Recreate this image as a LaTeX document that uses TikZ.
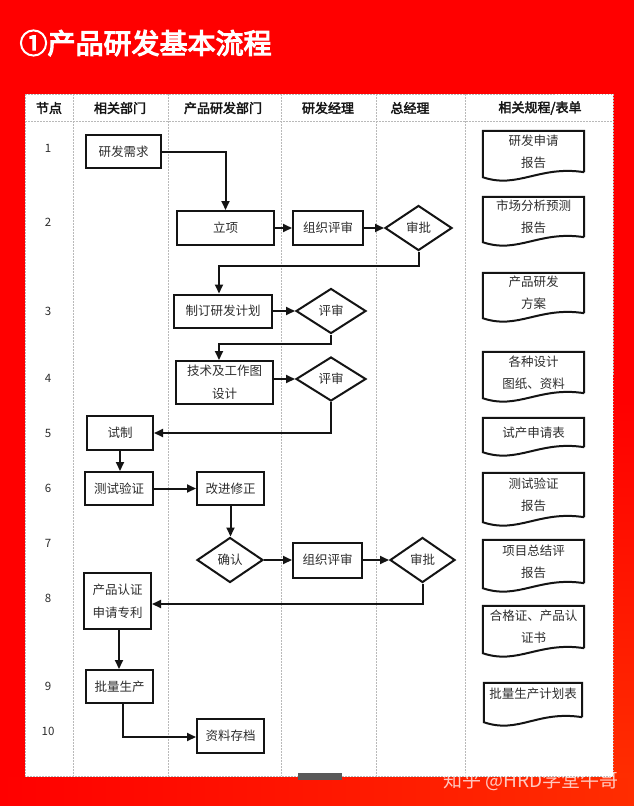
\documentclass[tikz,border=0pt]{standalone}
\usepackage{fontspec}
\setmainfont{Noto Sans CJK SC}[AutoFakeBold=2.5]
\newfontfamily\titlefont{Noto Sans CJK SC}[FakeBold=4]
\usetikzlibrary{arrows.meta,shapes.geometric,calc}
\definecolor{bgred}{RGB}{255,0,0}
\definecolor{bgorange}{RGB}{255,45,0}
\definecolor{ink}{RGB}{20,20,20}
\definecolor{txt}{RGB}{45,45,45}
\definecolor{grid}{RGB}{185,185,185}
\newcommand\docshape[2]{%
  \draw[line width=2pt, draw=ink]
    ($(#1.south east)+(0,#2)$) -- (#1.north east) -- (#1.north west) -- ($(#1.south west)+(0,#2+5)$)
    .. controls ($(#1.south west)+(35,#2+17)$) and ($(#1.south east)+(-45,#2-7)$) .. ($(#1.south east)+(0,#2)$);}
\begin{document}
\begin{tikzpicture}[x=1pt,y=-1pt,
  box/.style={draw=ink, line width=2pt, rectangle, inner sep=0pt, align=center,
    font=\fontsize{12.5}{22.5}\selectfont, text=txt},
  dia/.style={draw=ink, line width=2pt, diamond, inner sep=0pt, align=center,
    font=\fontsize{12.5}{15}\selectfont, text=txt},
  doc/.style={inner sep=0pt, minimum width=101pt, align=center,
    font=\fontsize{12.5}{22}\selectfont, text=txt},
  arr/.style={draw=ink, line width=2pt, -{Triangle[length=9pt,width=8pt]}},
  hdr/.style={font=\fontsize{13}{15}\selectfont\bfseries, text=ink},
  num/.style={font=\fontsize{11.5}{13}\selectfont, text=txt},
  divider/.style={draw=grid, line width=0.7pt, dash pattern=on 1.5pt off 1.5pt}
]
\useasboundingbox (0,0) rectangle (634,806);
% background
\fill[bgred] (0,0) rectangle (634,806);
\shade[left color=bgred, right color=bgorange] (0,777) rectangle (634,806);
\shade[top color=bgred, bottom color=bgorange] (613,400) rectangle (634,777);
% title
\node[anchor=west, text=white, font=\fontsize{28}{30}\selectfont\titlefont] (title) at (16,43) {①产品研发基本流程};
% panel
\fill[white] (25,94) rectangle (613,777);
\draw[divider] (25,94) rectangle (613,776);
\foreach \xx in {73,168,281,376,465} {\draw[divider] (\xx,94) -- (\xx,776);}
\draw[divider] (25,121) -- (613,121);
% header
\node[hdr] (h1) at (49,108) {节点};
\node[hdr] (h2) at (120,108) {相关部门};
\node[hdr] (h3) at (223,108) {产品研发部门};
\node[hdr] (h4) at (328,108) {研发经理};
\node[hdr] (h5) at (410,108) {总经理};
\node[hdr] (h6) at (540,108) {相关规程/表单};
% row numbers
\node[num] (n1) at (48,148) {1};
\node[num] (n2) at (48,222) {2};
\node[num] (n3) at (48,311) {3};
\node[num] (n4) at (48,378) {4};
\node[num] (n5) at (48,433) {5};
\node[num] (n6) at (48,488) {6};
\node[num] (n7) at (48,543) {7};
\node[num] (n8) at (48,598) {8};
\node[num] (n9) at (48,686) {9};
\node[num] (n10) at (48,731) {10};
% process nodes
\node[box, minimum width=75pt, minimum height=33pt] (rq) at (123.5,151.5) {研发需求};
\node[box, minimum width=97pt, minimum height=34pt] (lx) at (225.5,228) {立项};
\node[box, minimum width=70pt, minimum height=34pt] (ps1) at (328,228) {组织评审};
\node[dia, minimum width=67pt, minimum height=45pt] (sp1) at (418.5,228) {审批};
\node[box, minimum width=98pt, minimum height=33pt] (jh) at (223,311) {制订研发计划};
\node[dia, minimum width=70pt, minimum height=45pt] (ps2) at (331,311) {评审};
\node[box, minimum width=97pt, minimum height=43pt] (js) at (224.5,382.5) {技术及工作图\\设计};
\node[dia, minimum width=70pt, minimum height=44pt] (ps3) at (331,379) {评审};
\node[box, minimum width=66pt, minimum height=34pt] (sz) at (120,433) {试制};
\node[box, minimum width=68pt, minimum height=33pt] (cs) at (119,488.5) {测试验证};
\node[box, minimum width=67pt, minimum height=33pt] (gj) at (230.5,488.5) {改进修正};
\node[dia, minimum width=66pt, minimum height=45pt] (qr) at (230,560) {确认};
\node[box, minimum width=69pt, minimum height=35pt] (ps4) at (327.5,560) {组织评审};
\node[dia, minimum width=65pt, minimum height=45pt] (sp2) at (422.5,560) {审批};
\node[box, minimum width=67pt, minimum height=56pt] (rz) at (117.5,601) {产品认证\\申请专利};
\node[box, minimum width=67pt, minimum height=33pt] (pl) at (119.5,686.5) {批量生产};
\node[box, minimum width=67pt, minimum height=34pt] (zl) at (230.5,736) {资料存档};
% connectors
\draw[arr] (rq.east) -| (lx.north);
\draw[arr] (lx.east) -- (ps1.west);
\draw[arr] (ps1.east) -- (sp1.west);
\draw[arr] (sp1.south) -- ++(0,14) -| ($(jh.north)+(-4,0)$);
\draw[arr] (jh.east) -- (ps2.west);
\draw[arr] (ps2.south) -- ++(0,9) -| ($(js.north)+(-5.5,0)$);
\draw[arr] (ps3.west -| js.east) -- (ps3.west);
\draw[arr] (ps3.south) |- (sz.east);
\draw[arr] (sz.south) -- (sz.south |- cs.north);
\draw[arr] (cs.east) -- (gj.west);
\draw[arr] (gj.south) -- (gj.south |- qr.north);
\draw[arr] (qr.east) -- (ps4.west);
\draw[arr] (ps4.east) -- (sp2.west);
\draw[arr] (sp2.south) |- ($(rz.east)+(0,3)$);
\draw[arr] ($(rz.south)+(1.5,0)$) -- ($(pl.north)+(-0.5,0)$);
\draw[arr] ($(pl.south)+(3.5,0)$) |- ($(zl.west)+(0,1)$);
% documents
\node[doc, minimum height=41pt] (d1) at (533.5,151.5) {研发申请\\报告};
\node[doc, minimum height=40pt] (d2) at (533.5,217) {市场分析预测\\报告};
\node[doc, minimum height=40pt] (d3) at (533.5,293) {产品研发\\方案};
\node[doc, minimum height=41pt] (d4) at (533.5,372.5) {各种设计\\图纸、资料};
\node[doc, minimum height=29pt] (d5) at (533.5,432.5) {试产申请表};
\node[doc, minimum height=44pt] (d6) at (533.5,495) {测试验证\\报告};
\node[doc, minimum height=43pt] (d7) at (533.5,561.5) {项目总结评\\报告};
\node[doc, minimum height=42pt] (d8) at (533.5,627) {合格证、产品认\\证书};
\node[doc, minimum height=22pt, minimum width=98pt] (d9) at (533,694) {批量生产计划表};
\docshape{d1}{0}
\docshape{d2}{0}
\docshape{d3}{0}
\docshape{d4}{0}
\docshape{d5}{0}
\docshape{d6}{0}
\docshape{d7}{0}
\docshape{d8}{0}
\docshape{d9}{12}
% bottom tab and watermark
\fill[black!65] (298,773) rectangle (342,780);
\node[text=white, opacity=0.75, font=\fontsize{19}{20}\selectfont] (wm) at (531,781) {知乎 @HRD学堂牛哥};
\end{tikzpicture}
\end{document}
